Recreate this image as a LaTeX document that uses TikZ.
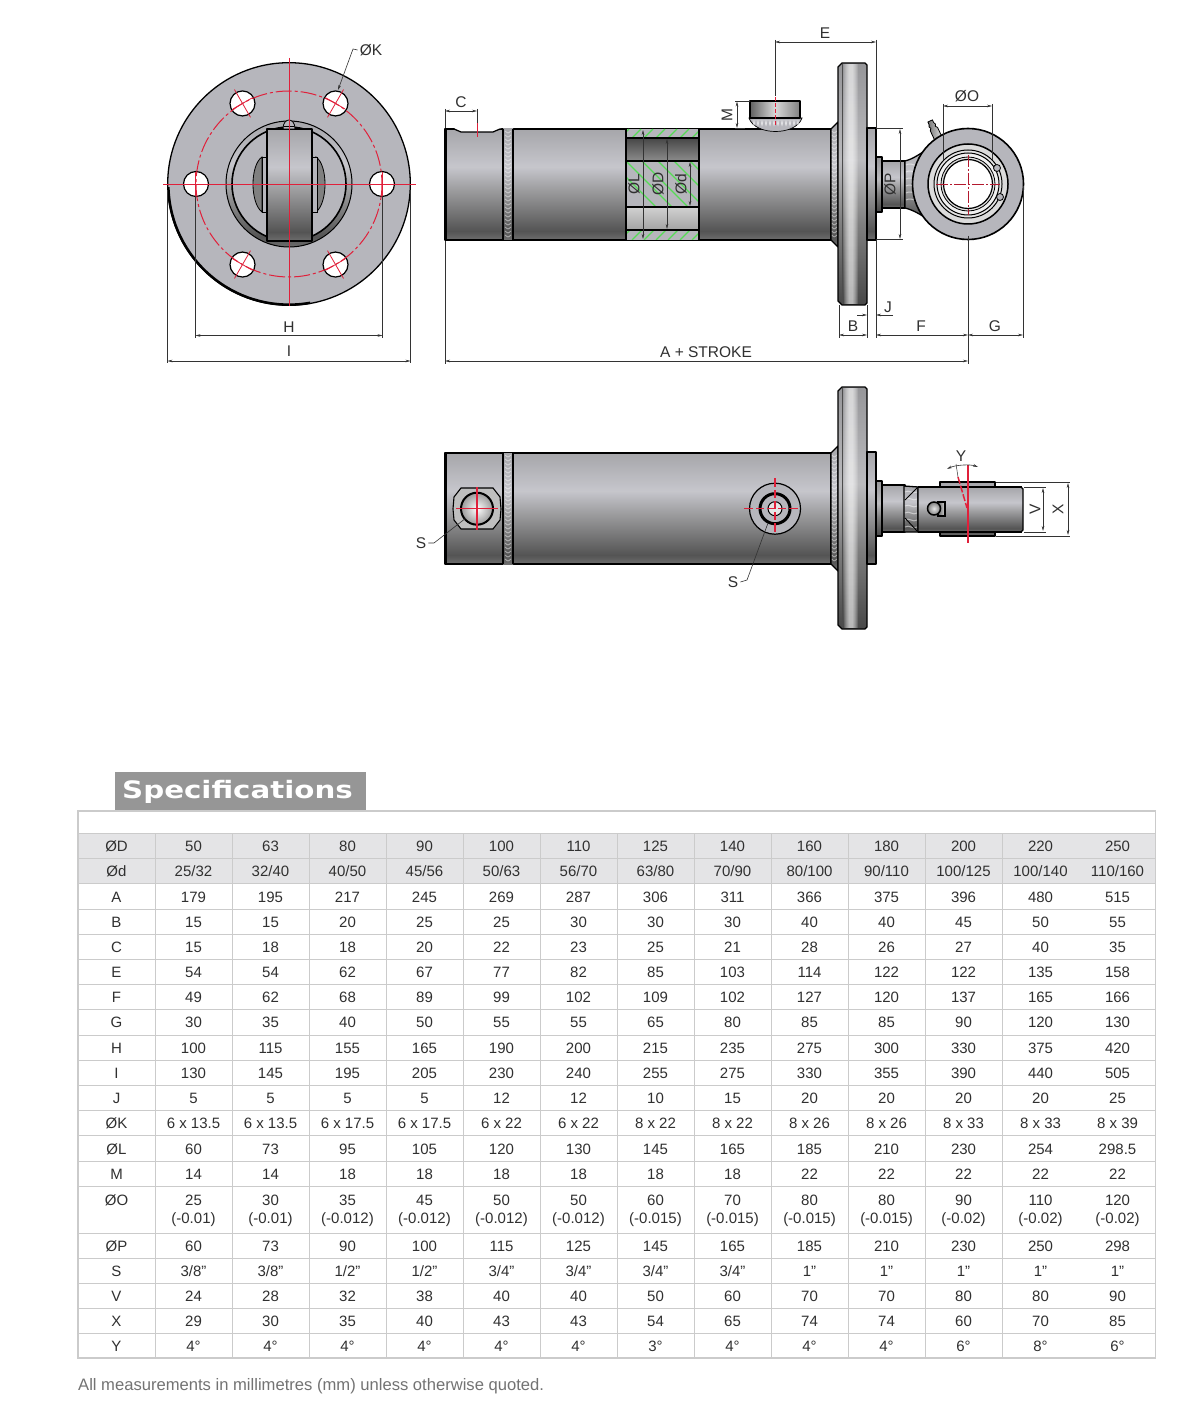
\documentclass[tikz,border=0pt]{standalone}
\usepackage{fontspec}
\setmainfont{Liberation Sans}
\newfontfamily\specfont{DejaVu Sans}
\usetikzlibrary{arrows.meta,calc}
\definecolor{dimc}{HTML}{333333}
\definecolor{labc}{HTML}{303030}
\definecolor{redc}{HTML}{E0203A}
\definecolor{greenc}{HTML}{55DC55}
\definecolor{gridc}{HTML}{CBCBCB}
\definecolor{stripc}{HTML}{E4E4E6}
\definecolor{facec}{HTML}{B6B6BC}
\definecolor{ca}{HTML}{6E6E6E}
\definecolor{cb}{HTML}{545454}
\definecolor{cc}{HTML}{9E9EA0}
\definecolor{cd}{HTML}{C6C6CC}
\definecolor{ce}{HTML}{A6A6AA}
\definecolor{fa}{HTML}{484848}
\definecolor{fb}{HTML}{808080}
\definecolor{fc}{HTML}{BBBBBE}
\definecolor{fd}{HTML}{969699}
\pgfdeclareverticalshading{cyl}{100bp}{color(0bp)=(ca);color(25bp)=(ca);color(29bp)=(cb);color(48bp)=(cc);color(58bp)=(cd);color(75bp)=(ce);color(100bp)=(ce)}
\pgfdeclareverticalshading{flng}{100bp}{color(0bp)=(fa);color(25bp)=(fa);color(42bp)=(fb);color(55bp)=(fc);color(75bp)=(fd);color(100bp)=(fd)}
\tikzset{
 tip/.tip={Stealth[length=5pt,width=2.6pt]},
 dimline/.style={draw=dimc,line width=.6pt,tip-tip},
 dimone/.style={draw=dimc,line width=.6pt,-tip},
 ext/.style={draw=dimc,line width=.5pt},
 lab/.style={text=labc,font=\fontsize{15.5}{15.5}\selectfont,inner sep=0pt},
 cell/.style={text=labc,font=\fontsize{15}{15}\selectfont,inner sep=0pt,anchor=base},
 cen/.style={draw=redc,line width=1.3pt},
 cenfine/.style={draw=redc,line width=.8pt},
 cendash/.style={draw=redc,line width=1pt,dash pattern=on 16pt off 3pt on 3pt off 3pt},
 ink/.style={draw=black,line width=1.3pt,line join=round},
 hatch/.style={draw=greenc,line width=1.2pt},
 grid/.style={draw=gridc,line width=1pt},
 weldarc/.style={draw=white,opacity=.45,line width=.9pt},
}
% common cylinder body, offset by #1 in y
\newcommand\bodycommon[1]{%
\begin{scope}[yshift=-#1pt]
 \path[shading=cyl,ink] (445,129) rectangle (831,240);
 \draw[black,line width=2.2pt] (446,130) -- (446,239);
 \path[shading=cyl] (503,129) rectangle (513,240);
 \foreach \wy in {131,135,...,238} \draw[weldarc] (505,\wy) .. controls (508,\wy+2.5) .. (511,\wy);
 \draw[ink] (503,129) -- (503,240) (513,129) -- (513,240);
 \path[shading=cyl,ink] (831,129) -- (838,122) -- (838,247) -- (831,240) -- cycle;
 \foreach \wy in {131,135,...,238} \draw[weldarc] (832,\wy) .. controls (834,\wy+2.5) .. (837,\wy);
 \path[shading=flng,ink] (838,67) -- (842,63) -- (865,63) -- (867,65) -- (867,303) -- (865,305) -- (842,305) -- (838,301) -- cycle;
 \foreach \wa/\wb in {844/858,845/857,846/856,847/855,848/854,849/853} \fill[white,opacity=.15] (\wa,64) rectangle (\wb,304);
 \draw[black!70,line width=.5pt] (842,64) -- (842,304);
 \path[shading=cyl,ink] (867,128) rectangle (876,240);
 \path[shading=flng,ink] (876,157) rectangle (882,212);
 \path[shading=cyl,ink] (882,161) rectangle (905,208);
\end{scope}}
\newcommand\trow[3]{%
 \node[cell] (t#1-0) at (116.5,#1+5.3) {#2};
 \foreach \v [count=\ci] in {#3} \node[cell] (t#1-\ci) at ({116.5+77*\ci},#1+5.3) {\v};}
\begin{document}
\begin{tikzpicture}[x=1pt,y=-1pt]
\useasboundingbox (0,0) rectangle (1200,1412);
\fill[white] (0,0) rectangle (1200,1412);

%% ---------- front view
\fill[facec] (289,184) circle (121.3);
\draw[black,line width=1.3pt] (289,184) circle (121.3);
\begin{scope}
 \clip (160,188) rectangle (310,312);
 \draw[black,line width=2.4pt] (289,184) circle (120.6);
\end{scope}
\foreach \a in {0,60,...,300} \path[draw=black,fill=white,line width=1.2pt] ($(289,184)+(\a:93)$) circle (12.5);
\path[shading=cyl,draw=black,line width=1pt] (289,184) circle (63);
\path[fill=facec,draw=black,line width=1.6pt] (289,184) circle (57);
\path[fill=fb,draw=black,line width=.8pt] (262,157) .. controls (250,165) and (250,203) .. (262,212) -- cycle;
\path[fill=fb,draw=black,line width=.8pt] (316,157) .. controls (328,165) and (328,203) .. (316,212) -- cycle;
\path[fill=facec,draw=black,line width=.8pt] (262,157) rectangle (268,212);
\path[fill=facec,draw=black,line width=.8pt] (311,157) rectangle (317,212);
\path[shading=cyl,ink] (267,129) rectangle (312,241);
\path[fill=facec,draw=black,line width=.8pt] (283,129) .. controls (283,117) and (295,117) .. (295,129) -- cycle;
\draw[black,line width=.6pt] (284,126) -- (294,126);
\draw[cendash] (289,184) circle (93);
\draw[cen] (163,184.3) -- (416,184.3);
\draw[cen] (289.3,58) -- (289.3,306);
\foreach \a in {60,120,240,300} {
 \draw[cenfine] ($(289,184)+(\a:77)$) -- ($(289,184)+(\a:109)$);
 \draw[cenfine] ($(289,184)+(\a:93)+(\a+90:11)$) -- ($(289,184)+(\a:93)+(\a-90:11)$);
}
\draw[cenfine] (195.7,172) -- (195.7,196);
\draw[cenfine] (382.3,172) -- (382.3,196);

\node[lab] (phik) at (371,50) {ØK};
\coordinate (kbend) at (353,49);
\coordinate (ktip) at (338,90);
\draw[dimone] (phik.west) ++(-2,0) -- (kbend) -- (ktip);
\coordinate (h1) at (195.5,335.5); \coordinate (h2) at (382.5,335.5);
\coordinate (i1) at (167.5,361); \coordinate (i2) at (410.5,361);
\draw[ext] (195.5,196) -- (195.5,338) (382.5,196) -- (382.5,338);
\draw[ext] (167.5,190) -- (167.5,363) (410.5,190) -- (410.5,363);
\draw[dimline] (h1) -- (h2);
\draw[dimline] (i1) -- (i2);
\node[lab] (lh) at (289,327) {H};
\node[lab] (li) at (289,351) {I};

%% ---------- top side view
\bodycommon{0}
% notch
\fill[white] (454,127.9) -- (459,132) -- (495,132) -- (502,127.9) -- cycle;
\draw[ink] (447,129) -- (454,129) -- (461,132) -- (493,132) -- (500,129) -- (503,129);
\draw[redc,line width=1pt] (477,123) -- (477,137);
% section
\fill[facec] (626,129) rectangle (699,240);
\begin{scope}
 \clip (626,129) rectangle (699,138) (626,161) rectangle (699,207) (626,230) rectangle (699,240);
 \foreach \hx in {560,572,...,740} \draw[hatch] (\hx,240) -- (\hx+11,229) (\hx,138) -- (\hx+9,129);
 \foreach \hx in {610,626,...,720} \draw[hatch] (\hx,161) -- (\hx+46,207);
\end{scope}
\path[top color=black!72,bottom color=black!45] (626,138) rectangle (699,161);
\path[top color=black!18,bottom color=black!36] (626,207) rectangle (699,230);
\draw[black,line width=1.8pt] (626,129) -- (626,240) (699,129) -- (699,240);
\draw[black,line width=1.1pt] (626,138) -- (699,138) (626,161) -- (699,161) (626,207) -- (699,207) (626,230) -- (699,230);
\draw[dimline] (643,130) -- (643,239);
\draw[dimline] (667,139) -- (667,229);
\draw[dimline] (690,162) -- (690,206);
\node[lab,rotate=90] (ll) at (634,184) {ØL};
\node[lab,rotate=90] (ld) at (658,184) {ØD};
\node[lab,rotate=90] (ldd) at (681,184) {Ød};
% port
\path[fill=facec,draw=black,line width=.7pt] (749,118) .. controls (755,136) and (796,136) .. (802,118) -- cycle;
\foreach \wx in {753,757,...,797} \draw[white,opacity=.6,line width=.8pt] (\wx,120) .. controls (\wx+1,127) .. (\wx+2,120);
\path[left color=black!62,right color=black!50,middle color=black!15,ink] (750,101) rectangle (800,118);
\draw[black,line width=1.8pt] (750,117.5) -- (800,117.5);
% neck and eye
\path[shading=cyl,ink] (905,161) .. controls (913,159) and (920,154) .. (932,146) -- (932,222) .. controls (920,214) and (913,210) .. (905,208) -- cycle;
\foreach \wy in {165,172,...,204} \draw[white,opacity=.5,line width=1pt] (906,\wy) .. controls (913,\wy-4) and (918,\wy+5) .. (925,\wy);
\begin{scope}[shift={(939,140)},rotate=25]
 \path[left color=black!55,right color=black!10,draw=black,line width=.8pt] (-4,0) -- (-4,-12) -- (-2.5,-14) -- (-3.5,-16) -- (-2.5,-18) -- (-2.5,-21) -- (2.5,-21) -- (2.5,-18) -- (3.5,-16) -- (2.5,-14) -- (4,-12) -- (4,0) -- cycle;
\end{scope}
\path[fill=facec,draw=black,line width=1.6pt] (968,184) circle (55.5);
\path[fill=black!14,draw=black,line width=1.5pt] (968,184) circle (40);
\path[fill=black!10,draw=black,line width=1pt] (968,184) circle (34);
\path[fill=black!6,draw=black,line width=1pt] (968,184) circle (31);
\path[fill=black!12,draw=black,line width=.8pt] (968,184) circle (27);
\path[fill=white,draw=black,line width=1.2pt] (968,184) circle (24.5);
\path[fill=facec,draw=black,line width=.8pt] (997,168) circle (3.5);
\path[fill=facec,draw=black,line width=.8pt] (1000,197) circle (3.5);
\draw[redc!80!black,line width=1.1pt,dash pattern=on 12pt off 2pt on 2pt off 2pt] (936,184.3) -- (1000,184.3) (968.3,155) -- (968.3,215);

% dimensions top view
\node[lab] (lc) at (461,102) {C};
\draw[dimline] (445,111) -- (477,111);
\draw[ext] (445,109) -- (445,128) (477,109) -- (477,123);
\draw[ext] (445,241) -- (445,364);
\node[lab] (la) at (706,352) {A + STROKE};
\draw[dimline] (445,361) -- (968,361);
\draw[ext] (968,236) -- (968,364);
\node[lab] (le) at (825,33) {E};
\draw[dimline] (775,42) -- (876,42);
\draw[ext] (775,40) -- (775,96) (876,40) -- (876,128) (876,240) -- (876,338);
\draw[redc,line width=1pt,dash pattern=on 4pt off 2pt] (775,97) -- (775,125);
\node[lab,rotate=90] (lm) at (727,115) {M};
\draw[dimline] (737,101.5) -- (737,128);
\draw[ext] (735,101) -- (750,101) (735,128) -- (745,128);
\node[lab,rotate=90] (lp) at (890,184) {ØP};
\draw[dimline] (900,129) -- (900,239);
\draw[ext] (876,128.5) -- (903,128.5) (876,239.5) -- (903,239.5);
\node[lab] (lo) at (967,96) {ØO};
\draw[dimline] (943,106) -- (992,106);
\draw[ext] (943,104) -- (943,160) (992,104) -- (992,160);
\node[lab] (lj) at (888,307) {J};
\draw[dimone] (857,315) -- (867,315);
\draw[dimone] (893,315) -- (876,315);
\node[lab] (lb) at (853,326) {B};
\draw[dimline] (839,335) -- (867,335);
\draw[ext] (839,305) -- (839,338) (867,305) -- (867,338);
\node[lab] (lf) at (921,326) {F};
\draw[dimline] (876,335) -- (968,335);
\node[lab] (lg) at (995,326) {G};
\draw[dimline] (968,335) -- (1023,335);
\draw[ext] (1023,186) -- (1023,338);

%% ---------- bottom side view
\bodycommon{324}
\path[fill=black!25,draw=black,line width=1.1pt] (461,488) -- (493,488) -- (500,497) -- (501,509) -- (500,520) -- (493,529) -- (461,529) -- (454,520) -- (453,509) -- (454,497) -- cycle;
\path[inner color=white,outer color=black!40,draw=black,line width=2pt] (477,508.7) circle (16);
\draw[redc,line width=1.2pt] (456,508.7) -- (498,508.7) (477,487) -- (477,530);
\path[fill=facec,draw=black,line width=1.2pt] (775,508.7) circle (25.5);
\path[fill=facec,draw=black,line width=3pt] (775,508.7) circle (15);
\path[fill=white!80!gray,draw=black,line width=1pt] (775,508.7) circle (7);
\draw[redc,line width=1.2pt,dash pattern=on 9pt off 3pt on 8pt off 3pt on 8pt off 3pt on 8pt off 3pt on 9pt] (744,508.7) -- (806,508.7) (775,478) -- (775,540);
\node[lab] (s1) at (421,543) {S};
\coordinate (s1b) at (434,543); \coordinate (s1t) at (466,518);
\draw[dimc,line width=.6pt] (s1.east) ++(2,0) -- (s1b) -- (s1t);
\node[lab] (s2) at (733,582) {S};
\coordinate (s2b) at (747,580); \coordinate (s2t) at (768,523);
\draw[dimc,line width=.6pt] (s2.east) ++(2,0) -- (s2b) -- (s2t);
% rod end
\path[shading=cyl,ink] (904,486) -- (918,487) -- (918,532) -- (904,532) -- cycle;
\foreach \wy in {492,499,...,528} \draw[white,opacity=.5,line width=1pt] (905,\wy) .. controls (909,\wy-3) and (913,\wy+3) .. (917,\wy);
\draw[black,line width=.9pt] (905,500) -- (917,488) (905,518) -- (917,531);
\path[shading=cyl,ink] (940,482) rectangle (995,536);
\path[shading=cyl,ink] (918,487) -- (1021,487) -- (1023,489) -- (1023,530) -- (1021,532) -- (918,532) -- cycle;
\draw[black,line width=1.8pt] (918,487) -- (1022,487) (918,532) -- (1022,532);
\path[left color=black!60,right color=black!15,draw=black,line width=1.2pt] (938,502) rectangle (945,516);
\path[inner color=white!80!gray,outer color=black!50,draw=black,line width=1.5pt] (934,508.5) circle (6.5);
\draw[redc,line width=1.1pt] (968,465) -- (968,543);
\draw[redc,line width=1.5pt,dash pattern=on 7pt off 2pt] (958,477) -- (967,508);
\node[lab] (ly) at (961,456) {Y};
\draw[dimline] (947,469) .. controls (955,465) and (970,464) .. (978,467);
\draw[ext] (956,464) -- (958,477);
\node[lab,rotate=90] (lv) at (1035,509) {V};
\draw[dimline] (1043,488) -- (1043,531);
\draw[ext] (1024,487) -- (1046,487) (1024,532) -- (1046,532);
\node[lab,rotate=90] (lx) at (1058,509) {X};
\draw[dimline] (1068,483) -- (1068,535);
\draw[ext] (996,482) -- (1070,482) (996,536) -- (1070,536);

%% ---------- table
\path[fill=black!41] (114.5,771.5) rectangle (365.7,811);
\node[inner sep=0pt,text=white,font=\specfont\bfseries\fontsize{24}{24}\selectfont,xscale=1.22] (spec) at (237.5,792) {Specifications};
\fill[stripc] (78,833.5) rectangle (1155.5,883.9);
\draw[grid,line width=1.3pt] (78,811) rectangle (1155.5,1358);
\foreach \ry in {833.5,858.7,883.9,909.1,934.3,959.5,984.7,1009.9,1035.1,1060.3,1085.5,1110.7,1135.9,1161.1,1186.3,1233,1258,1283,1308.5,1333.5} \draw[grid] (78,\ry) -- (1155.5,\ry);
\foreach \cn in {0,...,11} \draw[grid] ({155+77*\cn},833.5) -- ({155+77*\cn},1358);
\trow{846}{ØD}{50,63,80,90,100,110,125,140,160,180,200,220,250}
\trow{871}{Ød}{25/32,32/40,40/50,45/56,50/63,56/70,63/80,70/90,80/100,90/110,100/125,100/140,110/160}
\trow{897}{A}{179,195,217,245,269,287,306,311,366,375,396,480,515}
\trow{922}{B}{15,15,20,25,25,30,30,30,40,40,45,50,55}
\trow{947}{C}{15,18,18,20,22,23,25,21,28,26,27,40,35}
\trow{972}{E}{54,54,62,67,77,82,85,103,114,122,122,135,158}
\trow{997}{F}{49,62,68,89,99,102,109,102,127,120,137,165,166}
\trow{1022}{G}{30,35,40,50,55,55,65,80,85,85,90,120,130}
\trow{1048}{H}{100,115,155,165,190,200,215,235,275,300,330,375,420}
\trow{1073}{I}{130,145,195,205,230,240,255,275,330,355,390,440,505}
\trow{1098}{J}{5,5,5,5,12,12,10,15,20,20,20,20,25}
\trow{1123}{ØK}{6 x 13.5,6 x 13.5,6 x 17.5,6 x 17.5,6 x 22,6 x 22,8 x 22,8 x 22,8 x 26,8 x 26,8 x 33,8 x 33,8 x 39}
\trow{1149}{ØL}{60,73,95,105,120,130,145,165,185,210,230,254,298.5}
\trow{1174}{M}{14,14,18,18,18,18,18,18,22,22,22,22,22}
\trow{1200}{ØO}{25,30,35,45,50,50,60,70,80,80,90,110,120}
\trow{1218}{}{(-0.01),(-0.01),(-0.012),(-0.012),(-0.012),(-0.012),(-0.015),(-0.015),(-0.015),(-0.015),(-0.02),(-0.02),(-0.02)}
\trow{1246}{ØP}{60,73,90,100,115,125,145,165,185,210,230,250,298}
\trow{1271}{S}{3/8”,3/8”,1/2”,1/2”,3/4”,3/4”,3/4”,3/4”,1”,1”,1”,1”,1”}
\trow{1296}{V}{24,28,32,38,40,40,50,60,70,70,80,80,90}
\trow{1321}{X}{29,30,35,40,43,43,54,65,74,74,60,70,85}
\trow{1346}{Y}{4°,4°,4°,4°,4°,4°,3°,4°,4°,4°,6°,8°,6°}
\node[anchor=base west,inner sep=0pt,text=black!55,font=\fontsize{16.6}{17}\selectfont] (note) at (78,1390.5) {All measurements in millimetres (mm) unless otherwise quoted.};
\end{tikzpicture}
\end{document}
